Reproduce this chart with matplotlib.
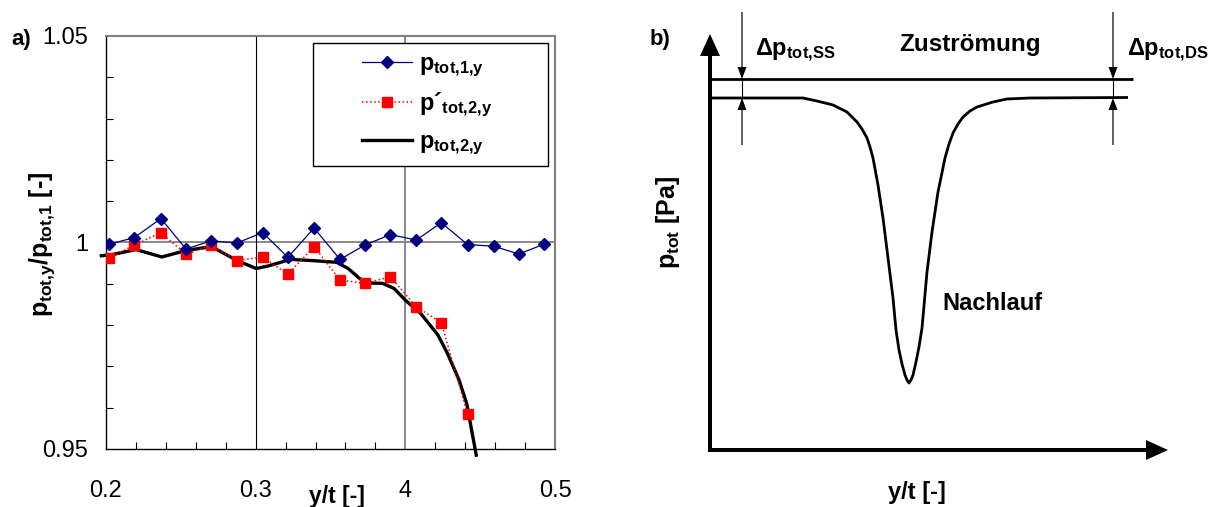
import matplotlib
matplotlib.use('Agg')
from matplotlib import pyplot as plt
from matplotlib.lines import Line2D
from matplotlib.patches import Rectangle
from matplotlib.ticker import FixedLocator, FixedFormatter, MultipleLocator

plt.rcParams['font.family'] = ['Liberation Sans', 'DejaVu Sans']
plt.rcParams['mathtext.fontset'] = 'custom'
plt.rcParams['mathtext.rm'] = 'Liberation Sans:bold'
plt.rcParams['mathtext.it'] = 'Liberation Sans:bold'
plt.rcParams['mathtext.bf'] = 'Liberation Sans:bold'

# panel a) measured data
yt = [0.2023, 0.2190, 0.2367, 0.2535, 0.2700, 0.2876, 0.3047, 0.3215, 0.3390,
      0.3564, 0.3730, 0.3900, 0.4074, 0.4240, 0.4416, 0.4590, 0.4760, 0.4926]
p1 = [0.9996, 1.0012, 1.0058, 0.9984, 1.0004, 0.9999, 1.0024, 0.9964, 1.0035,
      0.9959, 0.9994, 1.0019, 1.0006, 1.0048, 0.9995, 0.9991, 0.9972, 0.9996]
p2_dash = [0.9963, 0.9994, 1.0024, 0.9971, 0.9994, 0.9956, 0.9965, 0.9923,
           0.9990, 0.9909, 0.9901, 0.9917, 0.9844, 0.9806, 0.9584]
p2_x = [0.1969, 0.2033, 0.2199, 0.2373, 0.2539, 0.2705, 0.2877, 0.3004, 0.3081,
        0.3234, 0.3388, 0.3541, 0.3618, 0.3694, 0.3745, 0.3848, 0.3924, 0.4001,
        0.4103, 0.4218, 0.4282, 0.4359, 0.4410, 0.4474]
p2 = [0.9968, 0.9970, 0.9983, 0.9965, 0.9981, 0.9990, 0.9956, 0.9937, 0.9943,
      0.9959, 0.9956, 0.9952, 0.9937, 0.9913, 0.9902, 0.9901, 0.9889, 0.9860,
      0.9828, 0.9776, 0.9731, 0.9667, 0.9610, 0.9485]
xtick_vals = [0.2, 0.3, 0.4, 0.5]
xtick_labels = ['0.2', '0.3', '4', '0.5']
ytick_vals = [0.95, 1.0, 1.05]
ytick_labels = ['0.95', '1', '1.05']

# panel b) schematic wake profile (pixel coordinates)
wake_x = [710, 790, 803, 817, 833, 847, 857, 862, 867, 870, 873, 878, 883, 888,
          893, 896, 899, 902, 905, 907, 909, 911, 913, 916, 919, 922, 924.5,
          927, 932, 938, 945, 949, 953, 958, 963, 970, 977, 993, 1007, 1030,
          1128]
wake_y = [98, 98, 98, 101, 105, 112, 122, 129, 138, 147, 158, 185, 218, 258,
          298, 330, 350, 364, 375, 380, 383, 380, 375, 362, 347, 328, 300, 272,
          232, 192, 158, 144, 133, 124, 117, 111, 107, 102, 99, 98, 97.5]

W, H = 1219, 507
fig = plt.figure(figsize=(W / 100, H / 100), dpi=100)

ax = fig.add_axes([106 / W, 1 - 449 / H, 449 / W, 413 / H])
ax.set_xlim(0.2, 0.5)
ax.set_ylim(0.95, 1.05)
ax.axhline(1.0, color='#808080', lw=1.3, zorder=1)
ax.axvline(0.3, color='k', lw=0.8, zorder=1)
ax.axvline(0.4, color='#808080', lw=1.3, zorder=1)

ax.plot(p2_x, p2, color='k', lw=2.4, zorder=3, clip_on=False)
ax.plot(yt[:len(p2_dash)], p2_dash, color='red', ls=':', lw=1.1,
        marker='s', ms=7.5, mec='red', mfc='red', zorder=4)
ax.plot(yt, p1, color='#000080', lw=0.9, marker='D', ms=6.5,
        mec='#000080', mfc='#000080', zorder=5)

ax.xaxis.set_major_locator(FixedLocator(xtick_vals))
ax.xaxis.set_major_formatter(FixedFormatter(xtick_labels))
ax.xaxis.set_minor_locator(MultipleLocator(0.02))
ax.yaxis.set_major_locator(FixedLocator(ytick_vals))
ax.yaxis.set_major_formatter(FixedFormatter(ytick_labels))
ax.yaxis.set_minor_locator(MultipleLocator(0.01))
ax.tick_params(axis='both', which='both', direction='in', length=5, width=0.8,
               labelsize=17)
ax.tick_params(axis='x', which='major', length=0, pad=22)
ax.tick_params(axis='y', which='major', length=0, pad=13)
for s in ['top', 'right']:
    ax.spines[s].set_color('#808080')
    ax.spines[s].set_linewidth(1.5)
for s in ['left', 'bottom']:
    ax.spines[s].set_color('k')
    ax.spines[s].set_linewidth(1.0)

fig.text(337 / W, 1 - 496 / H, 'y/t [-]', fontsize=16.5, fontweight='bold',
         ha='center', va='center')
fig.text(42 / W, 1 - 244 / H, r'$p_{tot{,}y}/p_{tot{,}1}$ [-]', fontsize=18,
         fontweight='bold', rotation=90, ha='center', va='center')
fig.text(21 / W, 1 - 40 / H, 'a)', fontsize=16, fontweight='bold',
         ha='center', va='center')

frame = Rectangle((313 / W, 1 - 166 / H), 235 / W, 123 / H,
                  transform=fig.transFigure, fc='white', ec='k', lw=1.0,
                  zorder=6)
ax.add_artist(frame)
handles = [
    Line2D([], [], color='#000080', lw=0.9, marker='D', ms=6.5,
           mfc='#000080', mec='#000080'),
    Line2D([], [], color='red', ls=':', lw=1.1, marker='s', ms=7.5,
           mfc='red', mec='red'),
    Line2D([], [], color='k', lw=2.4),
]
labels = [r'$p_{tot{,}1{,}y}$', r'$p´_{tot{,}2{,}y}$', r'$p_{tot{,}2{,}y}$']
leg = fig.legend(handles, labels, loc='upper left',
                 bbox_to_anchor=(362 / W, 1 - 53 / H), frameon=False,
                 fontsize=17, handlelength=2.1, handletextpad=0.3,
                 labelspacing=0.5, borderpad=0, borderaxespad=0)
leg.set_zorder(7)

# panel b)
ax2 = fig.add_axes([600 / W, 0, 619 / W, 1])
ax2.set_xlim(600, 1219)
ax2.set_ylim(507, 0)
ax2.axis('off')

ax2.arrow(710, 452, 0, -418, width=4, head_width=20, head_length=22,
          length_includes_head=True, fc='k', ec='none')
ax2.arrow(708, 450, 460, 0, width=4, head_width=20, head_length=22,
          length_includes_head=True, fc='k', ec='none')
ax2.plot([710, 1133], [79, 79], color='k', lw=2.0, solid_capstyle='butt')
ax2.plot(wake_x, wake_y, color='k', lw=2.0, solid_capstyle='butt',
         solid_joinstyle='round')

for ax_x in [742, 1113]:
    ax2.arrow(ax_x, 12, 0, 67, width=1.2, head_width=9, head_length=12,
              length_includes_head=True, fc='k', ec='none')
    ax2.arrow(ax_x, 145, 0, -47, width=1.2, head_width=9, head_length=12,
              length_includes_head=True, fc='k', ec='none')
    ax2.plot([ax_x, ax_x], [79, 98], color='k', lw=0.8)

ax2.text(660, 40, 'b)', fontsize=16, fontweight='bold', ha='center',
         va='center')
ax2.text(970, 45, 'Zuströmung', fontsize=17.5, fontweight='bold',
         ha='center', va='center')
ax2.text(755, 50, r'$\Delta p_{tot{,}SS}$', fontsize=17, ha='left',
         va='center')
ax2.text(1127, 50, r'$\Delta p_{tot{,}DS}$', fontsize=17, ha='left',
         va='center')
ax2.text(942, 303, 'Nachlauf', fontsize=17, fontweight='bold', ha='left',
         va='center')
ax2.text(668, 222, r'$p_{tot}$ [Pa]', fontsize=18, fontweight='bold',
         rotation=90, ha='center', va='center')
ax2.text(917, 493, 'y/t [-]', fontsize=17, fontweight='bold', ha='center',
         va='center')

fig.savefig('out.png', dpi=100)
